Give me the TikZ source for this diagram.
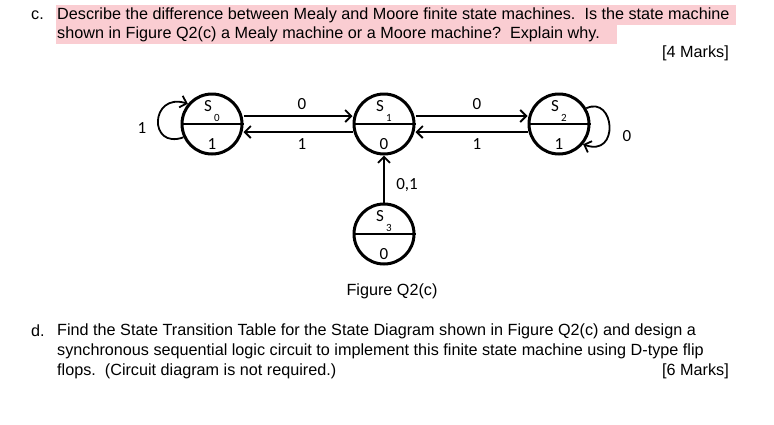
\documentclass[tikz,border=0pt]{standalone}
\usepackage{fontspec}
\setmainfont{Liberation Sans}
\newfontfamily\calfont{Carlito}
\usetikzlibrary{arrows.meta}
\begin{document}
\begin{tikzpicture}[x=1pt,y=-1pt,
  st/.style={circle,draw,line width=3pt,minimum size=60pt,inner sep=0pt},
  ed/.style={line width=1.8pt,-{Straight Barb[length=6pt,width=12pt]}},
  lb/.style={font=\calfont\fontsize{17}{17}\selectfont,inner sep=1pt},
  tx/.style={font=\fontsize{16.2}{20}\selectfont,anchor=west,inner sep=0pt},
  hl/.style={fill={rgb,255:red,250;green,205;blue,210}}]
\useasboundingbox (0,0) rectangle (774,424);
\fill[hl] (56,5) rectangle (736,25);
\fill[hl] (56,25) rectangle (617,44);
\node[tx] (c) at (31,15) {c.};
\node[tx] (l1) at (57,15) {Describe the difference between Mealy and Moore finite state machines.\ \ Is the state machine};
\node[tx] (l2) at (57,34) {shown in Figure Q2(c) a Mealy machine or a Moore machine?\ \ Explain why.};
\node[tx,anchor=east] (m4) at (729,53) {[4 Marks]};
\foreach \n/\x/\y/\s/\o in {s0/212/124/0/1, s1/384/124/1/0, s2/559/124/2/1, s3/384/234/3/0}{
  \node[st] (\n) at (\x,\y) {};
  \draw[line width=1.2pt] (\n.west) -- (\n.east);
  \node[lb] (\n l) at (\x-4,\y-18) {S};
  \node[lb,font=\calfont\fontsize{11}{11}\selectfont] (\n i) at (\x+5,\y-6) {\s};
  \node[lb] (\n o) at (\x,\y+20) {\o};
}
\draw[ed] ([yshift=8pt]s0.east) -- ([yshift=8pt]s1.west);
\draw[ed] ([yshift=-8pt]s1.west) -- ([yshift=-8pt]s0.east);
\draw[ed] ([yshift=8pt]s1.east) -- ([yshift=8pt]s2.west);
\draw[ed] ([yshift=-8pt]s2.west) -- ([yshift=-8pt]s1.east);
\draw[ed] (s3.north) -- (s1.south);
\draw[ed] (s0.-155) .. controls (148,150) and (150,92) .. (s0.140);
\draw[ed] (s2.30) .. controls (615,95) and (620,158) .. (s2.-40);
\node[lb] (a) at (302,104) {0};
\node[lb] (b) at (302,144) {1};
\node[lb] (c2) at (477,104) {0};
\node[lb] (d) at (477,144) {1};
\node[lb] (e) at (407,185) {0,1};
\node[lb] (f) at (142,128) {1};
\node[lb] (g) at (627,136) {0};
\node[font=\fontsize{16.2}{20}\selectfont] (fig) at (392,291) {Figure Q2(c)};
\node[tx] (d0) at (31,331) {d.};
\node[tx] (k1) at (57,331) {Find the State Transition Table for the State Diagram shown in Figure Q2(c) and design a};
\node[tx] (k2) at (57,351) {synchronous sequential logic circuit to implement this finite state machine using D-type flip};
\node[tx] (k3) at (57,371) {flops.\ \ (Circuit diagram is not required.)};
\node[tx,anchor=east] (m6) at (729,371) {[6 Marks]};
\end{tikzpicture}
\end{document}
